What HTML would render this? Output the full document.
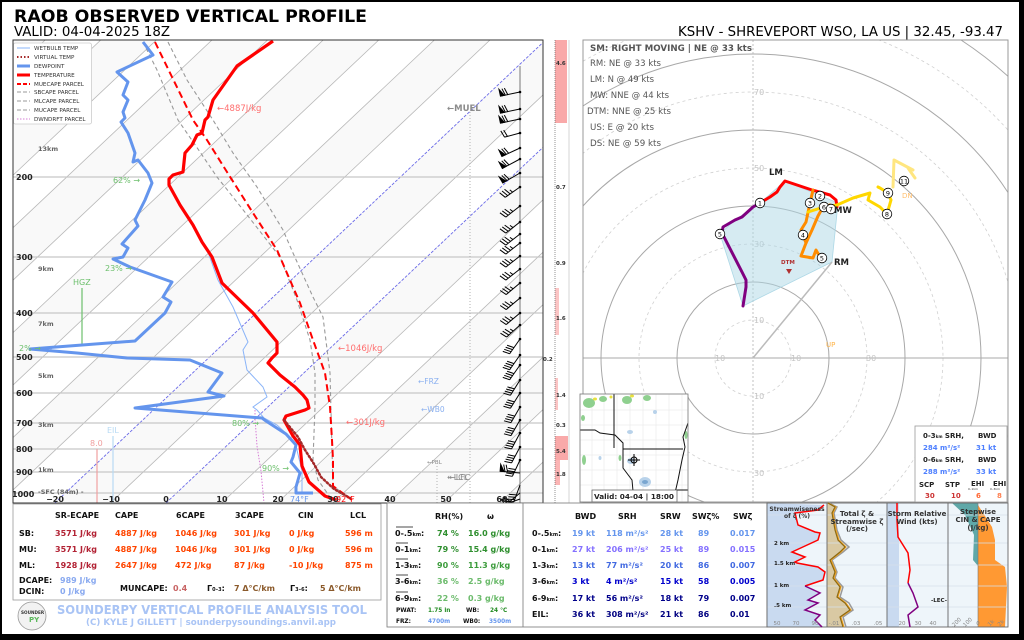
<!DOCTYPE html>
<html><head><meta charset="utf-8"><style>
html,body{margin:0;padding:0;background:#000;width:1024px;height:640px;overflow:hidden;}
svg{display:block;font-family:"DejaVu Sans","Liberation Sans",sans-serif;}
.b{font-weight:bold;}
</style></head><body>
<svg width="1024" height="640" viewBox="0 0 1024 640" xmlns="http://www.w3.org/2000/svg">
<defs>
<clipPath id="cs"><rect x="13" y="40" width="530" height="463"/></clipPath>
<clipPath id="ch"><rect x="583" y="40" width="425" height="462"/></clipPath>
<clipPath id="cm"><rect x="580" y="394" width="108" height="108"/></clipPath>
<g id="bA" stroke="#000" stroke-width="1" fill="#000"><path d="M0,0H-20" fill="none"/><polygon points="-20,0 -16,0 -20,-7"/><path d="M-15,0L-17,-7M-12.5,0L-14.5,-7" fill="none"/></g>
<g id="bB" stroke="#000" stroke-width="1" fill="none"><path d="M0,0H-18M-18,0L-20,-7M-15,0L-17,-7M-12,0L-14,-7M-9,0L-10,-3.5"/></g>
<g id="bC" stroke="#000" stroke-width="1" fill="none"><path d="M0,0H-18M-18,0L-20,-7M-15.5,0L-17.5,-7M-13,0L-15,-7M-10.5,0L-12.5,-7"/></g>
<g id="bD" stroke="#000" stroke-width="1" fill="none"><path d="M0,0H-16M-16,0L-18,-7M-13,0L-15,-7"/></g>
</defs>
<rect width="1024" height="640" fill="#000"/>
<rect x="2" y="2" width="1017" height="632" fill="#fff"/>

<!-- Titles -->
<text x="14" y="22" font-size="17" class="b" textLength="353" lengthAdjust="spacingAndGlyphs">RAOB OBSERVED VERTICAL PROFILE</text>
<text x="14" y="36" font-size="13" textLength="156" lengthAdjust="spacingAndGlyphs">VALID: 04-04-2025 18Z</text>
<text x="678" y="36" font-size="13" textLength="325" lengthAdjust="spacingAndGlyphs">KSHV - SHREVEPORT WSO, LA US | 32.45, -93.47</text>

<!-- ================= SKEW-T ================= -->
<g clip-path="url(#cs)">
<rect x="13" y="40" width="530" height="463" fill="#fff"/>
<g fill="#f9f9f9">
<polygon points="0,82.6 45.2,40 0,40"/>
<polygon points="0,187.5 156.4,40 100.8,40 0,135.1"/>
<polygon points="0,292.4 267.6,40 212,40 0,240"/>
<polygon points="0,397.3 378.8,40 323.2,40 0,344.9"/>
<polygon points="0,503 490,40 434.4,40 0,449.8"/>
<polygon points="54.8,503 110.4,503 601.2,40 545.6,40"/>
<polygon points="166,503 221.6,503 712.4,40 656.8,40"/>
<polygon points="277.2,503 332.8,503 823.6,40 768,40"/>
<polygon points="388.4,503 444,503 934.8,40 879.2,40"/>
<polygon points="499.6,503 543,503 543,462.1"/>
</g>
<g id="adi" fill="none"></g>
<path d="M0,82.6L45.2,40M0,135.1L100.8,40M0,187.5L156.4,40M0,240L212,40M0,292.4L267.6,40M0,344.9L323.2,40M0,397.3L378.8,40M0,449.8L434.4,40M0,502.2L490,40M110.4,503L601.2,40M221.6,503L712.4,40M277.2,503L767.9,40M332.8,503L823.6,40M388.4,503L879.2,40M444,503L934.8,40M499.6,503L990.4,40" stroke="#b8b8b8" stroke-width="0.8" fill="none"/>
<path d="M54.8,503L545.6,40M166,503L656.8,40" stroke="#6a6ae8" stroke-width="0.9" stroke-dasharray="3,1.5" fill="none"/>
<!-- pressure lines -->
<path d="M13,177H569M13,257H569M13,313H569M13,357H569M13,393H569M13,423H569M13,449H569M13,472H569M13,493H569" stroke="#c8c8c8" stroke-width="1.3" fill="none"/>
<!-- dotted verticals -->
<path d="M470,112V503M437,466V503" stroke="#aaa" stroke-width="0.9" stroke-dasharray="1,2" fill="none"/>

<!-- HGZ, EIL, 8.0 -->
<path d="M82,288V346" stroke="#6cbf6c" stroke-width="1.2"/>
<path d="M113,436V503" stroke="#b8daf4" stroke-width="1.2"/>
<path d="M97,449V503" stroke="#f0a0a0" stroke-width="1.2"/>

<!-- parcels -->
<polyline points="143,42 157,70 178,120 200,152 217,177 233,197 255,225 280,257 297,300 310,340 315,373 315,407 313,460 318,480 330,497" fill="none" stroke="#999" stroke-width="1.1" stroke-dasharray="4,3"/>
<polyline points="168,42 187,80 213,120 233,153 257,187 283,230 293,253 313,297 323,317 330,373 332,450 333,486 352,500" fill="none" stroke="#999" stroke-width="1.1" stroke-dasharray="4,3"/>
<polyline points="155,42 172,77 193,120 207,140 227,172 253,213 277,250 293,287 300,303 313,340 325,373 330,407 332,440 333,460 333,486 352,500" fill="none" stroke="#f00" stroke-width="2" stroke-dasharray="7,4"/>
<polyline points="255,410 255,418 257,446 261,471 264,503" fill="none" stroke="#d67fd6" stroke-width="1" stroke-dasharray="1.5,1.5"/>

<!-- wetbulb -->
<polyline points="180,205 193,225 208,252 218,280 233,307 248,342 243,350 247,370 263,387 267,397 253,407 257,410 264,418 277,425 289,436 296,446 302,471 302,493" fill="none" stroke="#8ab4f8" stroke-width="1"/>
<!-- dewpoint -->
<polyline points="143,42 153,55 117,72 128,82 123,95 128,100 123,112 125,118 121,122 128,133 135,153 133,162 138,160 148,173 152,183 145,200 135,220 138,226 122,244 128,248 123,257 113,259 130,267 172,282 163,297 171,302 165,313 135,341 30,349 77,353 127,358 190,360 222,373 208,392 224,396 135,408 262,418 266,421 286,434 296,445 293,457 291,462 300,473 296,487 296,493 313,493" fill="none" stroke="#6495ed" stroke-width="3" stroke-linejoin="round"/>
<!-- temperature -->
<polyline points="273,41 237,66 213,100 208,117 205,120 202,133 197,135 192,145 185,153 183,172 173,175 169,179 169,185 180,205 193,225 202,242 212,257 222,283 253,313 277,342 277,353 272,358 268,363 280,375 295,387 303,395 307,400 309,408 305,410 286,416 284,420 293,436 300,445 302,466 309,482 325,496 336,500" fill="none" stroke="#f00" stroke-width="3.2" stroke-linejoin="round"/>
<!-- virtual temp -->
<polyline points="284,420 298,437 305,450 314,464 321,477 334,489 350,498" fill="none" stroke="#a52a2a" stroke-width="2.5" stroke-dasharray="1.5,2.5" stroke-linecap="round"/>

<!-- barb staff -->
<path d="M520,66V503" stroke="#555" stroke-width="0.8"/>
<g>
<use href="#bA" transform="translate(520,92) rotate(-12)"/>
<use href="#bA" transform="translate(520,109) rotate(-12)"/>
<use href="#bA" transform="translate(520,119) rotate(-12)"/>
<use href="#bD" transform="translate(520,133) rotate(-15)"/>
<use href="#bA" transform="translate(520,148) rotate(-25)"/>
<use href="#bA" transform="translate(520,159) rotate(-28)"/>
<use href="#bA" transform="translate(520,173) rotate(-30)"/>
<use href="#bB" transform="translate(520,187) rotate(-35)"/>
<use href="#bB" transform="translate(520,206) rotate(-38)"/>
<use href="#bB" transform="translate(520,222) rotate(-38)"/>
<use href="#bB" transform="translate(520,234) rotate(-38)"/>
<use href="#bB" transform="translate(520,243) rotate(-38)"/>
<use href="#bB" transform="translate(520,256) rotate(-38)"/>
<use href="#bB" transform="translate(520,269) rotate(-38)"/>
<use href="#bB" transform="translate(520,283) rotate(-40)"/>
<use href="#bB" transform="translate(520,298) rotate(-40)"/>
<use href="#bB" transform="translate(520,313) rotate(-40)"/>
<use href="#bB" transform="translate(520,325) rotate(-42)"/>
<use href="#bC" transform="translate(520,339) rotate(-55)"/>
<use href="#bC" transform="translate(520,355) rotate(-55)"/>
<use href="#bC" transform="translate(520,365) rotate(-55)"/>
<use href="#bC" transform="translate(520,380) rotate(-58)"/>
<use href="#bC" transform="translate(520,393) rotate(-58)"/>
<use href="#bC" transform="translate(520,407) rotate(-60)"/>
<use href="#bC" transform="translate(520,420) rotate(-60)"/>
<use href="#bC" transform="translate(520,433) rotate(-62)"/>
<use href="#bC" transform="translate(520,447) rotate(-62)"/>
<use href="#bC" transform="translate(520,460) rotate(-65)"/>
<use href="#bA" transform="translate(520,473) rotate(5)"/>
<use href="#bC" transform="translate(520,485) rotate(-70)"/>
<use href="#bD" transform="translate(520,493) rotate(-40)"/>
<use href="#bD" transform="translate(520,499) rotate(-20)"/>
</g>
<g fill="#000">
<circle cx="520" cy="92" r="1.3"/><circle cx="520" cy="109" r="1.3"/><circle cx="520" cy="119" r="1.3"/><circle cx="520" cy="133" r="1.3"/><circle cx="520" cy="148" r="1.3"/><circle cx="520" cy="159" r="1.3"/><circle cx="520" cy="173" r="1.3"/><circle cx="520" cy="187" r="1.3"/><circle cx="520" cy="206" r="1.3"/><circle cx="520" cy="222" r="1.3"/><circle cx="520" cy="234" r="1.3"/><circle cx="520" cy="243" r="1.3"/><circle cx="520" cy="256" r="1.3"/><circle cx="520" cy="269" r="1.3"/><circle cx="520" cy="283" r="1.3"/><circle cx="520" cy="298" r="1.3"/><circle cx="520" cy="313" r="1.3"/><circle cx="520" cy="325" r="1.3"/><circle cx="520" cy="339" r="1.3"/><circle cx="520" cy="355" r="1.3"/><circle cx="520" cy="365" r="1.3"/><circle cx="520" cy="380" r="1.3"/><circle cx="520" cy="393" r="1.3"/><circle cx="520" cy="407" r="1.3"/><circle cx="520" cy="420" r="1.3"/><circle cx="520" cy="433" r="1.3"/><circle cx="520" cy="447" r="1.3"/><circle cx="520" cy="460" r="1.3"/>
</g>

<!-- annotations -->
<g font-size="8.5">
<text x="217" y="111" fill="#ff6e6e">←4887J/kg</text>
<text x="338" y="351" fill="#ff6e6e">←1046J/kg</text>
<text x="346" y="425" fill="#ff6e6e">←301J/kg</text>
<text x="447" y="111" fill="#8c8c8c" class="b">←MUEL</text>
<text x="418" y="384" fill="#8ab0f0" font-size="7.5">←FRZ</text>
<text x="421" y="412" fill="#8ab0f0" font-size="7.5">←WB0</text>
<text x="427" y="464" fill="#888" font-size="5.5">←PBL</text>
<text x="447" y="480" fill="#888" font-size="8">←LCL</text>
<text x="449" y="480" fill="#888" font-size="8">←LFC</text>
<text x="113" y="183" fill="#6cbf6c" font-size="8">62% →</text>
<text x="105" y="271" fill="#6cbf6c" font-size="8">23% →</text>
<text x="19" y="351" fill="#6cbf6c" font-size="8">2% →</text>
<text x="232" y="426" fill="#6cbf6c" font-size="8">80% →</text>
<text x="262" y="471" fill="#6cbf6c" font-size="8">90% →</text>
<text x="73" y="285" fill="#6cbf6c" font-size="8">HGZ</text>
<text x="107" y="433" fill="#b8daf4" font-size="8">EIL</text>
<text x="90" y="446" fill="#f0a0a0" font-size="8">8.0</text>
</g>
<!-- legend -->
<rect x="13.5" y="43" width="78" height="81" fill="#fff" stroke="#ccc" stroke-width="0.8" rx="2"/>
<g stroke-width="1">
<path d="M17,48H30" stroke="#8ab4f8"/>
<path d="M17,57H30" stroke="#a52a2a" stroke-width="2" stroke-dasharray="1.5,2"/>
<path d="M17,66H30" stroke="#6495ed" stroke-width="3"/>
<path d="M17,75H30" stroke="#f00" stroke-width="3"/>
<path d="M17,84H30" stroke="#f00" stroke-width="2" stroke-dasharray="4,2"/>
<path d="M17,92H30" stroke="#999" stroke-dasharray="4,2"/>
<path d="M17,101H30" stroke="#999" stroke-dasharray="4,2"/>
<path d="M17,110H30" stroke="#999" stroke-dasharray="4,2"/>
<path d="M17,119H30" stroke="#d67fd6" stroke-dasharray="1.5,1.5"/>
</g>
<g font-size="5.6" fill="#333">
<text x="34" y="50">WETBULB TEMP</text>
<text x="34" y="59">VIRTUAL TEMP</text>
<text x="34" y="68">DEWPOINT</text>
<text x="34" y="77">TEMPERATURE</text>
<text x="34" y="86">MUECAPE PARCEL</text>
<text x="34" y="94">SBCAPE PARCEL</text>
<text x="34" y="103">MLCAPE PARCEL</text>
<text x="34" y="112">MUCAPE PARCEL</text>
<text x="34" y="121">DWNDRFT PARCEL</text>
</g>
</g>
<!-- skewT frame -->
<rect x="13" y="40" width="530" height="463" fill="none" stroke="#333" stroke-width="1"/>
<!-- pressure labels -->
<g font-size="8" class="b" fill="#222">
<text x="16" y="180">200</text><text x="16" y="260">300</text><text x="16" y="316">400</text><text x="16" y="360">500</text><text x="16" y="396">600</text><text x="16" y="426">700</text><text x="16" y="452">800</text><text x="16" y="475">900</text><text x="12" y="497">1000</text>
</g>
<g font-size="6.5" class="b" fill="#666">
<text x="38" y="151">13km</text><text x="38" y="271">9km</text><text x="38" y="326">7km</text><text x="38" y="378">5km</text><text x="38" y="427">3km</text><text x="38" y="472">1km</text><text x="38" y="494">-SFC (84m) -</text>
</g>
<g font-size="8" class="b" fill="#222" text-anchor="middle">
<text x="55" y="502">−20</text><text x="111" y="502">−10</text><text x="166" y="502">0</text><text x="222" y="502">10</text><text x="278" y="502">20</text><text x="333" y="502">30</text><text x="390" y="502">40</text><text x="446" y="502">50</text><text x="502" y="502">60</text>
</g>
<text x="290" y="502" font-size="8" fill="#6495ed">74°F</text>
<text x="336" y="502" font-size="8" fill="#f00">92°F</text>

<!-- right column -->
<g>
<rect x="555" y="40" width="12" height="83" fill="#f9a9a9"/>
<rect x="555" y="288" width="4" height="47" fill="#fbc4c4"/>
<rect x="555" y="378" width="3" height="32" fill="#fbc4c4"/>
<rect x="555" y="436" width="13" height="24" fill="#f9a9a9"/>
<rect x="555" y="460" width="5" height="25" fill="#fbb4b4"/>
<path d="M555,40V503" stroke="#666" stroke-width="0.7" stroke-dasharray="1,1"/>
<path d="M569,40V503" stroke="#ccc" stroke-width="0.8"/>
<g font-size="5.5" class="b" fill="#333">
<text x="556" y="65">4.6</text><text x="556" y="189">0.7</text><text x="556" y="265">0.9</text><text x="556" y="320">1.6</text><text x="543" y="361">0.2</text><text x="556" y="397">1.4</text><text x="556" y="427">0.3</text><text x="556" y="453">5.4</text><text x="556" y="476">1.8</text>
</g>
</g>

<!-- ================= HODOGRAPH ================= -->
<g clip-path="url(#ch)">
<rect x="583" y="40" width="425" height="462" fill="#fff"/>
<g fill="none">
<circle cx="753" cy="358" r="38" stroke="#d0d0d0" stroke-width="0.8" stroke-dasharray="3,3"/>
<circle cx="753" cy="358" r="76" stroke="#a8a8a8" stroke-width="1"/>
<circle cx="753" cy="358" r="114" stroke="#d0d0d0" stroke-width="0.8" stroke-dasharray="3,3"/>
<circle cx="753" cy="358" r="152" stroke="#a8a8a8" stroke-width="1"/>
<circle cx="753" cy="358" r="190" stroke="#d0d0d0" stroke-width="0.8" stroke-dasharray="3,3"/>
<circle cx="753" cy="358" r="228" stroke="#a8a8a8" stroke-width="1"/>
<circle cx="753" cy="358" r="266" stroke="#d0d0d0" stroke-width="0.8" stroke-dasharray="3,3"/>
<path d="M583,106A304,304 0 0 1 1008,192.5" stroke="#a8a8a8" stroke-width="1"/>
<path d="M583,61.2A342,342 0 0 1 1008,130.1" stroke="#d0d0d0" stroke-width="0.8" stroke-dasharray="3,3"/>
<path d="M961,40A380,380 0 0 1 1008,76.3" stroke="#a8a8a8" stroke-width="1"/>
<path d="M753,40V502" stroke="#bbb" stroke-width="0.9" stroke-dasharray="2,2"/>
<path d="M583,358H1008" stroke="#aaa" stroke-width="0.9"/>
</g>
<g font-size="8" fill="#c4c4c4">
<text x="754" y="95">70</text><text x="754" y="171">50</text><text x="754" y="247">30</text><text x="754" y="323">10</text>
<text x="754" y="399">10</text><text x="754" y="476">30</text>
<text x="715" y="361">10</text><text x="791" y="361">10</text><text x="866" y="361">30</text>
</g>
<polygon points="760,203 785,181 838,203 832,262 743,306 720,234 735,220" fill="#add8e6" fill-opacity="0.5" stroke="#add8e6" stroke-width="0.8"/>
<path d="M753,358L832,262" stroke="#bbb" stroke-width="1.5"/>
<g fill="none" stroke-width="3" stroke-linejoin="round" stroke-linecap="round">
<polyline points="743,306 746,287 746,280 742,272 722,233 723,227 735,220 742,217 753,207 760,203" stroke="#800080"/>
<polyline points="760,203 770,197 777,192 780,187 785,181 797,185 812,190 823,193 830,195 836,200 837,207" stroke="#f00"/>
<polyline points="813,190 810,203 806,222 801,230 803,235 806,243 801,256 813,258 816,250 820,257 822,258" stroke="#ff8c00"/>
<polyline points="806,243 812,230 818,216 823,207 830,205" stroke="#ff8c00"/>
<polyline points="808,212 824,207 837,205 853,198 870,193 868,200 880,207 887,214 891,200 888,193 880,188 878,187" stroke="#ffd700"/>
<polyline points="893,187 894,160 913,170 908,168 915,178" stroke="#ffe680"/>
</g>
<g font-size="6.5" text-anchor="middle" stroke-width="0.8">
<circle cx="760" cy="203" r="4.8" fill="#fff" stroke="#000"/><text x="760" y="205.5">1</text>
<circle cx="820" cy="196" r="4.8" fill="#fff" stroke="#000"/><text x="820" y="198.5">2</text>
<circle cx="810" cy="203" r="4.8" fill="#fff" stroke="#000"/><text x="810" y="205.5">3</text>
<circle cx="803" cy="235" r="4.8" fill="#fff" stroke="#000"/><text x="803" y="237.5">4</text>
<circle cx="822" cy="258" r="4.8" fill="#fff" stroke="#000"/><text x="822" y="260.5">5</text>
<circle cx="720" cy="234" r="4.8" fill="#fff" stroke="#000"/><text x="720" y="236.5">5</text>
<circle cx="824" cy="207" r="4.8" fill="#fff" stroke="#000"/><text x="824" y="209.5">6</text>
<circle cx="831" cy="209" r="4.8" fill="#fff" stroke="#000"/><text x="831" y="211.5">7</text>
<circle cx="887" cy="214" r="4.8" fill="#fff" stroke="#000"/><text x="887" y="216.5">8</text>
<circle cx="888" cy="193" r="4.8" fill="#fff" stroke="#000"/><text x="888" y="195.5">9</text>
<circle cx="904" cy="181" r="4.8" fill="#fff" stroke="#000"/><text x="904" y="183.5">11</text>
</g>
<g class="b">
<text x="769" y="175" font-size="8.5" fill="#222">LM</text>
<text x="834" y="213" font-size="8.5" fill="#222">MW</text>
<text x="834" y="265" font-size="8.5" fill="#222">RM</text>
<text x="781" y="264" font-size="5.5" fill="#b03030">DTM</text>
</g>
<polygon points="786,269 792,269 789,274" fill="#b03030"/>
<text x="826" y="347" font-size="7" fill="#ffb347">UP</text>
<text x="902" y="198" font-size="7" fill="#ffc070">DN</text>
<g font-size="8.5" fill="#555">
<text x="590" y="51" class="b" textLength="162" lengthAdjust="spacingAndGlyphs">SM: RIGHT MOVING | NE @ 33 kts</text>
<text x="590" y="66" textLength="71" lengthAdjust="spacingAndGlyphs">RM: NE @ 33 kts</text>
<text x="590" y="82" textLength="64" lengthAdjust="spacingAndGlyphs">LM: N @ 49 kts</text>
<text x="590" y="98" textLength="79" lengthAdjust="spacingAndGlyphs">MW: NNE @ 44 kts</text>
<text x="587" y="114" textLength="84" lengthAdjust="spacingAndGlyphs">DTM: NNE @ 25 kts</text>
<text x="590" y="130" textLength="64" lengthAdjust="spacingAndGlyphs">US: E @ 20 kts</text>
<text x="590" y="146" textLength="71" lengthAdjust="spacingAndGlyphs">DS: NE @ 59 kts</text>
</g>
</g>
<rect x="583" y="40" width="425" height="462" fill="none" stroke="#999" stroke-width="1"/>

<!-- map inset -->
<g clip-path="url(#cm)">
<rect x="580" y="394" width="108" height="108" fill="#fff"/>
<path d="M580,410H688M580,425H688M580,440H688M580,455H688M580,470H688M580,485H688M592,394V502M604,394V502M617,394V502M630,394V502M643,394V502M656,394V502M669,394V502M682,394V502" stroke="#e4e4e4" stroke-width="0.5"/>
<g fill="#8fd08f">
<ellipse cx="589" cy="403" rx="6" ry="5"/><ellipse cx="603" cy="399" rx="4" ry="3"/><ellipse cx="627" cy="400" rx="5" ry="4"/><ellipse cx="647" cy="398" rx="4" ry="3"/><ellipse cx="583" cy="418" rx="2" ry="3"/><ellipse cx="584" cy="460" rx="2" ry="5"/><ellipse cx="620" cy="458" rx="1.5" ry="3"/><ellipse cx="686" cy="435" rx="1.5" ry="4"/>
</g>
<g fill="#e8e040"><ellipse cx="595" cy="399" rx="2" ry="1.5"/><ellipse cx="611" cy="397" rx="1.5" ry="1.5"/><ellipse cx="632" cy="396" rx="2" ry="1.5"/></g>
<g fill="#b8d2ea"><ellipse cx="631" cy="461" rx="4" ry="3"/><ellipse cx="645" cy="482" rx="6" ry="5"/><ellipse cx="630" cy="432" rx="3" ry="2"/><ellipse cx="655" cy="412" rx="2" ry="2"/><ellipse cx="600" cy="458" rx="1.5" ry="2"/></g>
<g fill="#7aa6d0"><ellipse cx="645" cy="482" rx="3" ry="2"/></g>
<path d="M614,394V448M580,430L595,430L600,433L615,435L623,443L623,449H683M623,449V468L632,480L633,491M688,423L683,437L685,447L682,460L678,480L675,493M675,490H688" stroke="#111" stroke-width="1" fill="none"/>
<path d="M628,460H640M634,454V466" stroke="#000" stroke-width="1"/><circle cx="634" cy="460" r="3" fill="none" stroke="#000" stroke-width="1"/>
<rect x="592" y="490" width="85" height="12" fill="#fff" stroke="#555" stroke-width="0.7"/>
<text x="594" y="499" font-size="7" class="b" fill="#222" textLength="80" lengthAdjust="spacingAndGlyphs">Valid: 04-04 | 18:00</text>
</g>
<rect x="580" y="394" width="108" height="108" fill="none" stroke="#777" stroke-width="0.8"/>

<!-- SRH box -->
<rect x="915" y="426" width="92" height="76" fill="#fff" stroke="#999" stroke-width="0.8"/>
<g font-size="7" class="b">
<text x="923" y="438" fill="#222">0-3<tspan font-size="4">km</tspan> SRH,</text><text x="978" y="438" fill="#222">BWD</text>
<text x="923" y="450" fill="#4d7fff">284 m²/s²</text><text x="976" y="450" fill="#4d7fff">31 kt</text>
<text x="923" y="462" fill="#222">0-6<tspan font-size="4">km</tspan> SRH,</text><text x="978" y="462" fill="#222">BWD</text>
<text x="923" y="474" fill="#4d7fff">288 m²/s²</text><text x="976" y="474" fill="#4d7fff">33 kt</text>
<text x="919" y="487" fill="#222">SCP</text><text x="945" y="487" fill="#222">STP</text><text x="971" y="486" fill="#222">EHI</text><text x="993" y="486" fill="#222">EHI</text>
<text x="925" y="498" fill="#cc3333">30</text><text x="951" y="498" fill="#cc3333">10</text><text x="976" y="498" fill="#ff6633">6</text><text x="997" y="498" fill="#ff7f50">8</text>
</g>
<g font-size="3" fill="#333"><text x="968" y="490">0–1km</text><text x="990" y="490">0–3km</text></g>

<!-- ================= BOTTOM LEFT TABLE ================= -->
<rect x="13" y="504" width="368" height="96" fill="#fff" stroke="#999" stroke-width="0.8"/>
<g font-size="8" class="b">
<g fill="#111"><text x="55" y="518">SR-ECAPE</text><text x="115" y="518">CAPE</text><text x="176" y="518">6CAPE</text><text x="235" y="518">3CAPE</text><text x="298" y="518">CIN</text><text x="350" y="518">LCL</text>
<text x="19" y="536">SB:</text><text x="19" y="552">MU:</text><text x="19" y="568">ML:</text><text x="19" y="583">DCAPE:</text><text x="19" y="594">DCIN:</text></g>
<g fill="#b22234"><text x="55" y="536">3571 J/kg</text><text x="55" y="552">3571 J/kg</text><text x="55" y="568">1928 J/kg</text></g>
<g fill="#ff4500">
<text x="115" y="536">4887 J/kg</text><text x="175" y="536">1046 J/kg</text><text x="234" y="536">301 J/kg</text><text x="289" y="536">0 J/kg</text><text x="345" y="536">596 m</text>
<text x="115" y="552">4887 J/kg</text><text x="175" y="552">1046 J/kg</text><text x="234" y="552">301 J/kg</text><text x="289" y="552">0 J/kg</text><text x="345" y="552">596 m</text>
<text x="115" y="568">2647 J/kg</text><text x="175" y="568">472 J/kg</text><text x="234" y="568">87 J/kg</text><text x="289" y="568">-10 J/kg</text><text x="345" y="568">875 m</text>
</g>
<g fill="#8aaaf0"><text x="60" y="583">989 J/kg</text><text x="60" y="594">0 J/kg</text></g>
<text x="120" y="591" fill="#111">MUNCAPE:</text><text x="173" y="591" fill="#c86464">0.4</text>
<text x="207" y="591" fill="#111">Γ<tspan font-size="5">0–3</tspan>:</text><text x="234" y="591" fill="#8b5a2b">7 Δ°C/km</text>
<text x="290" y="591" fill="#111">Γ<tspan font-size="5">3–6</tspan>:</text><text x="320" y="591" fill="#8b5a2b">5 Δ°C/km</text>
</g>
<!-- logo + footer -->
<circle cx="32" cy="616" r="14" fill="#f2f2f2" stroke="#999" stroke-width="0.8"/>
<text x="21" y="614" font-size="4.2" class="b" fill="#333">SOUNDER</text>
<text x="29" y="622" font-size="7" class="b" fill="#5cb85c">PY</text>
<text x="57" y="614" font-size="12.5" class="b" fill="#a9c4f5" textLength="310" lengthAdjust="spacingAndGlyphs">SOUNDERPY VERTICAL PROFILE ANALYSIS TOOL</text>
<text x="86" y="625" font-size="9" class="b" fill="#a9c4f5" textLength="250" lengthAdjust="spacingAndGlyphs">(C) KYLE J GILLETT | sounderpysoundings.anvil.app</text>

<!-- ================= MIDDLE TABLE ================= -->
<rect x="387" y="503" width="380" height="124" fill="#fff" stroke="#777" stroke-width="0.8"/>
<path d="M523,503V627" stroke="#777" stroke-width="0.8"/>
<g font-size="8" class="b">
<text x="435" y="519" fill="#111">RH(%)</text><text x="487" y="519" fill="#111">ω</text>
<g fill="#111">
<text x="395" y="536">0-.5<tspan font-size="5">km</tspan>:</text>
<text x="395" y="552">0-1<tspan font-size="5">km</tspan>:</text>
<text x="395" y="568">1-3<tspan font-size="5">km</tspan>:</text>
<text x="395" y="584">3-6<tspan font-size="5">km</tspan>:</text>
<text x="395" y="601">6-9<tspan font-size="5">km</tspan>:</text>
</g>
<path d="M396,527H413M396,543H408M396,559H408M396,575H408M396,592H408" stroke="#111" stroke-width="0.7"/>
<text x="437" y="536" fill="#2f8f2f">74 %</text><text x="468" y="536" fill="#2f8f2f">16.0 g/kg</text>
<text x="437" y="552" fill="#2f8f2f">79 %</text><text x="468" y="552" fill="#2f8f2f">15.4 g/kg</text>
<text x="437" y="568" fill="#3c9c3c">90 %</text><text x="468" y="568" fill="#3c9c3c">11.3 g/kg</text>
<text x="437" y="584" fill="#6cbb6c">36 %</text><text x="468" y="584" fill="#6cbb6c">2.5 g/kg</text>
<text x="437" y="601" fill="#6cbb6c">22 %</text><text x="468" y="601" fill="#6cbb6c">0.3 g/kg</text>
</g>
<g font-size="5.8" class="b">
<text x="396" y="612" fill="#111">PWAT:</text><text x="428" y="612" fill="#228b22">1.75 in</text><text x="466" y="612" fill="#111">WB:</text><text x="490" y="612" fill="#228b22">24 °C</text>
<text x="396" y="623" fill="#111">FRZ:</text><text x="428" y="623" fill="#6495ed">4700m</text><text x="463" y="623" fill="#111">WB0:</text><text x="489" y="623" fill="#6495ed">3500m</text>
</g>
<g font-size="8" class="b">
<g fill="#111"><text x="575" y="519">BWD</text><text x="618" y="519">SRH</text><text x="660" y="519">SRW</text><text x="692" y="519">SWζ%</text><text x="733" y="519">SWζ</text>
<text x="532" y="536">0-.5<tspan font-size="5">km</tspan>:</text><text x="532" y="552">0-1<tspan font-size="5">km</tspan>:</text><text x="532" y="568">1-3<tspan font-size="5">km</tspan>:</text><text x="532" y="584">3-6<tspan font-size="5">km</tspan>:</text><text x="532" y="601">6-9<tspan font-size="5">km</tspan>:</text><text x="532" y="617">EIL:</text></g>
<g fill="#6495ed"><text x="572" y="536">19 kt</text><text x="606" y="536">118 m²/s²</text><text x="660" y="536">28 kt</text><text x="698" y="536">89</text><text x="730" y="536">0.017</text></g>
<g fill="#8470ff"><text x="572" y="552">27 kt</text><text x="606" y="552">206 m²/s²</text><text x="660" y="552">25 kt</text><text x="698" y="552">89</text><text x="730" y="552">0.015</text></g>
<g fill="#4169e1"><text x="572" y="568">13 kt</text><text x="606" y="568">77 m²/s²</text><text x="660" y="568">20 kt</text><text x="698" y="568">86</text><text x="730" y="568">0.007</text></g>
<g fill="#0000cd"><text x="572" y="584">3 kt</text><text x="606" y="584">4 m²/s²</text><text x="660" y="584">15 kt</text><text x="698" y="584">58</text><text x="730" y="584">0.005</text></g>
<g fill="#00008b"><text x="572" y="601">17 kt</text><text x="606" y="601">56 m²/s²</text><text x="660" y="601">18 kt</text><text x="698" y="601">79</text><text x="730" y="601">0.007</text></g>
<g fill="#000080"><text x="572" y="617">36 kt</text><text x="606" y="617">308 m²/s²</text><text x="660" y="617">21 kt</text><text x="698" y="617">86</text><text x="730" y="617">0.01</text></g>
</g>

<!-- ================= BOTTOM RIGHT PANELS ================= -->
<g>
<rect x="767" y="503" width="241" height="124" fill="#eef5fa"/>
<polygon points="767,503 824,505 818,510 795,513 798,525 815,532 820,533 818,540 792,552 805,557 795,562 797,563 818,567 825,572 823,580 805,586 820,593 808,600 818,603 805,610 820,615 815,620 822,627 767,627" fill="#c9daf0"/>
<polygon points="827,503 828,503 835,507 832,513 835,530 838,540 845,547 840,552 830,560 835,572 833,578 840,587 837,597 845,603 850,610 840,617 843,627 827,627" fill="#d9c9a3"/>
<rect x="887" y="503" width="12" height="124" fill="#c9daf0"/>
<polygon points="952,503 978,503 978,566 973,560 974,535 965,515" fill="#5fa8a8"/>
<polygon points="978,505 992,527 995,540 995,560 1005,567 1007,587 1005,627 978,627" fill="#ff9933"/>
<path d="M767,515H1008M767,543H1008M767,565H1008M767,586H1008M767,607H1008" stroke="#d6e0ea" stroke-width="0.8"/>
<path d="M827,503V627M887,503V627M948,503V627" stroke="#666" stroke-width="0.9"/>
<rect x="767" y="503" width="241" height="124" fill="none" stroke="#666" stroke-width="0.9"/>
<polyline points="824,505 818,510 795,513 798,525 815,532 820,533 818,540 792,552 805,557 795,562 797,563 818,567 825,572 823,580 805,586" fill="none" stroke="#f00" stroke-width="1.5"/>
<polyline points="805,586 820,593 808,600 818,603 805,610 820,615 815,620 822,627" fill="none" stroke="#800080" stroke-width="1.5"/>
<polyline points="829,503 837,507 834,513 837,530 841,540 849,547 843,552 832,560 837,572 835,578 843,587 840,597 849,603 853,610 843,617 846,627" fill="none" stroke="#999" stroke-width="1.5"/>
<polyline points="828,503 836,507 833,513 836,530 839,540 846,547 841,552 831,560 836,572 834,578 841,587 838,597 846,603 851,610 841,617 844,627" fill="none" stroke="#f5a623" stroke-width="1.2"/>
<polyline points="828,503 835,507 832,513 835,530 838,540 845,547 840,552 830,560 835,572 833,578 840,587 837,597 845,603 850,610 840,617 843,627" fill="none" stroke="#8b6914" stroke-width="1.2"/>
<polyline points="897,503 897,520 898,537 908,553 910,570 908,583" fill="none" stroke="#f00" stroke-width="1.5"/>
<polyline points="908,583 913,593 918,607 908,615 910,627" fill="none" stroke="#800080" stroke-width="1.5"/>
<path d="M978,503V627" stroke="#777" stroke-width="0.6"/>
<g font-size="6" class="b" fill="#333" text-anchor="middle">
<text x="797" y="511">Streamwiseness</text><text x="797" y="518">of ζ (%)</text>
<text x="857" y="516" font-size="7">Total ζ &amp;</text><text x="857" y="524" font-size="7">Streamwise ζ</text><text x="857" y="531" font-size="7">(/sec)</text>
<text x="917" y="516" font-size="7">Storm Relative</text><text x="917" y="524" font-size="7">Wind (kts)</text>
<text x="978" y="514" font-size="7">Stepwise</text><text x="978" y="522" font-size="7">CIN &amp; CAPE</text><text x="978" y="530" font-size="7">(J/kg)</text>
</g>
<g font-size="5.5" class="b" fill="#222">
<text x="774" y="545">2 km</text><text x="774" y="565">1.5 km</text><text x="774" y="587">1 km</text><text x="774" y="607">.5 km</text>
<text x="931" y="602">-LEC-</text>
</g>
<g font-size="5.5" fill="#888" text-anchor="middle">
<text x="777" y="625">50</text><text x="796" y="625">70</text><text x="815" y="625">90</text>
<text x="834" y="625">-.01</text><text x="856" y="625">.03</text><text x="878" y="625">.05</text>
<text x="902" y="625">20</text><text x="918" y="625">30</text><text x="933" y="625">40</text>
<text x="955" y="625" transform="rotate(-45 955 622)">-200</text><text x="966" y="625" transform="rotate(-45 966 622)">-100</text><text x="978" y="625">0</text><text x="990" y="625" transform="rotate(-45 990 622)">1k</text><text x="1000" y="625" transform="rotate(-45 1000 622)">2k</text>
</g>
</g>

<script>
(function(){
var ns="http://www.w3.org/2000/svg";
var g=document.getElementById('adi');
if(!g)return;
function Y(p){return 493+196.3*Math.log(p/1000);}
function X(T,p){return 166+5.56*T+1.06*(503-Y(p));}
function add(pts,col,w){if(pts.length<2)return;var d='';for(var i=0;i<pts.length;i++){d+=(i?'L':'M')+pts[i][0].toFixed(1)+','+pts[i][1].toFixed(1);}var e=document.createElementNS(ns,'path');e.setAttribute('d',d);e.setAttribute('stroke',col);e.setAttribute('stroke-width',w);e.setAttribute('fill','none');g.appendChild(e);}
function ok(x){return x>=0&&x<=1020;}
for(var th=230;th<=480;th+=10){var pts=[];for(var p=1050;p>=100;p-=10){var T=th*Math.pow(p/1000,0.2857)-273.15;var x=X(T,p);if(ok(x))pts.push([x,Y(p)]);}add(pts,'rgba(255,0,0,0.16)',0.7);}
for(var T0=-20;T0<=45;T0+=5){var T=T0+273.15,pts=[];for(var p=1050;p>=100;p-=5){var x=X(T-273.15,p);if(ok(x))pts.push([x,Y(p)]);var Tc=T-273.15;var es=6.112*Math.exp(17.67*Tc/(Tc+243.5));var rs=0.622*es/(p-es);var num=287*T+2.5e6*rs;var den=1004+2.5e6*2.5e6*rs*0.622/(287*T*T);T-=num/(p*den)*5;}add(pts,'rgba(60,60,255,0.14)',0.7);}
})();
</script>
</svg>
</body></html>
